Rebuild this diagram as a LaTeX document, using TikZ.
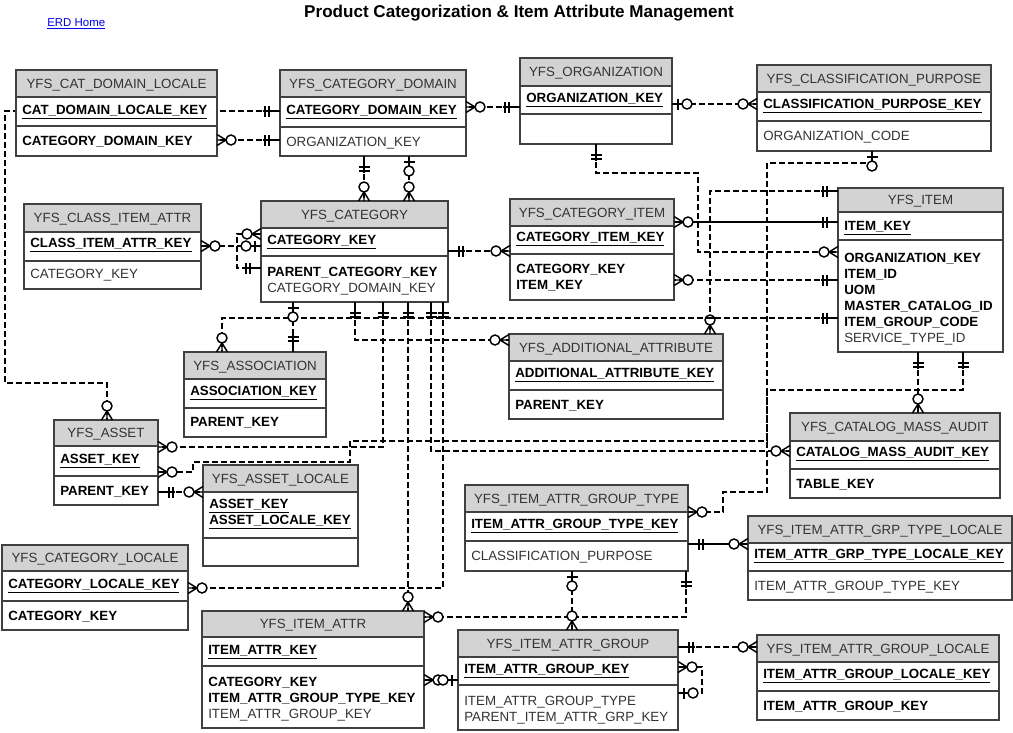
\documentclass[tikz,border=0pt]{standalone}
\usepackage{fontspec}
\setmainfont{Liberation Sans}
\usetikzlibrary{fit,calc,backgrounds}
\definecolor{hdrgray}{HTML}{D3D3D3}
\definecolor{boxgray}{HTML}{404040}
\definecolor{txtgray}{HTML}{333333}
\definecolor{linkblue}{HTML}{0000EE}
\newcommand{\erdent}[8]{%
  \fill[hdrgray] (#2,#3) rectangle (#4,#6);
  \fill[white] (#2,#6) rectangle (#4,#5);
  \draw[divline] (#2,#6) -- (#4,#6) (#2,#7) -- (#4,#7);
  \node[entity, fit={(#2,#3) (#4,#5)}] (#1) {};
  \node[hdrtext] at ({(#2+#4)/2},{(#3+#6)/2}) {#8};
}
\tikzset{
 entity/.style={draw=boxgray, line width=1pt, inner sep=0pt, outer sep=0pt},
 divline/.style={draw=boxgray, line width=0.9pt},
 basefont/.style={font=\fontsize{10}{12}\selectfont},
 hdrtext/.style={basefont, text=txtgray, inner sep=0pt, anchor=base, yshift=-3.6pt},
 keyt/.style={anchor=base west, yshift=-3.6pt, font=\fontsize{10}{12}\selectfont\bfseries, inner sep=0pt},
 attb/.style={anchor=base west, yshift=-3.6pt, font=\fontsize{10}{12}\selectfont\bfseries, inner sep=0pt},
 attn/.style={anchor=base west, yshift=-3.6pt, basefont, text=txtgray, inner sep=0pt},
 rel/.style={draw=black, line width=1pt, dash pattern=on 4.5pt off 2.25pt},
 relsolid/.style={draw=black, line width=1pt},
 sym/.style={draw=black, line width=1.1pt, solid},
 pics/zmany/.style={code={\draw[sym] (0,-5.5) -- (9,0) -- (0,5.5) (0,0) -- (9,0); \draw[sym,fill=white] (14,0) circle[radius=5];}},
 pics/one/.style={code={\draw[sym] (0,0) -- (17,0) (11,-5.5) -- (11,5.5) (15,-5.5) -- (15,5.5);}},
 pics/zone/.style={code={\draw[sym] (0,0) -- (10,0) (6,-5.5) -- (6,5.5); \draw[sym,fill=white] (15,0) circle[radius=5];}},
}
\begin{document}
\begin{tikzpicture}[x=0.75pt,y=-0.75pt]
\useasboundingbox (0,0) rectangle (1013,732);
\begin{pgfonlayer}{background}
\fill[white] (0,0) rectangle (1013,732);
\end{pgfonlayer}

% title and link
\node[font=\fontsize{12.8}{15}\selectfont\bfseries, anchor=base, yshift=-4.5pt, inner sep=0pt] (title) at (519,11) {Product Categorization \& Item Attribute Management};
\node[font=\fontsize{8.6}{10}\selectfont, text=linkblue, anchor=base west, yshift=-3pt, inner sep=0pt] (home) at (47,22) {\underline{ERD Home}};

% entities
\erdent{cdl}{16}{70}{217}{156}{97}{126}{YFS\_CAT\_DOMAIN\_LOCALE}
\node[keyt] at (22,110) {\underline{CAT\_DOMAIN\_LOCALE\_KEY}};
\node[attb] at (22,141) {CATEGORY\_DOMAIN\_KEY};

\erdent{cd}{280}{70}{466}{156}{97}{127}{YFS\_CATEGORY\_DOMAIN}
\node[keyt] at (286,110) {\underline{CATEGORY\_DOMAIN\_KEY}};
\node[attn] at (286,142) {ORGANIZATION\_KEY};

\erdent{org}{520}{58}{672}{144}{86}{114}{YFS\_ORGANIZATION}
\node[keyt] at (526,98) {\underline{ORGANIZATION\_KEY}};

\erdent{cp}{757}{65}{991}{151}{92}{121}{YFS\_CLASSIFICATION\_PURPOSE}
\node[keyt] at (763,104) {\underline{CLASSIFICATION\_PURPOSE\_KEY}};
\node[attn] at (763,136) {ORGANIZATION\_CODE};

\erdent{cia}{24}{204}{201}{289}{232}{261}{YFS\_CLASS\_ITEM\_ATTR}
\node[keyt] at (30,243) {\underline{CLASS\_ITEM\_ATTR\_KEY}};
\node[attn] at (30,274) {CATEGORY\_KEY};

\erdent{cat}{261}{201}{448}{302}{228}{256}{YFS\_CATEGORY}
\node[keyt] at (267,240) {\underline{CATEGORY\_KEY}};
\node[attb] at (267,272) {PARENT\_CATEGORY\_KEY};
\node[attn] at (267,288) {CATEGORY\_DOMAIN\_KEY};

\erdent{ci}{510}{199}{674}{300}{226}{254}{YFS\_CATEGORY\_ITEM}
\node[keyt] at (516,237) {\underline{CATEGORY\_ITEM\_KEY}};
\node[attb] at (516,269) {CATEGORY\_KEY};
\node[attb] at (516,285) {ITEM\_KEY};

\erdent{item}{838}{188}{1003}{352}{212}{240}{YFS\_ITEM}
\node[keyt] at (844,226) {\underline{ITEM\_KEY}};
\node[attb] at (844,258) {ORGANIZATION\_KEY};
\node[attb] at (844,274) {ITEM\_ID};
\node[attb] at (844,290) {UOM};
\node[attb] at (844,306) {MASTER\_CATALOG\_ID};
\node[attb] at (844,322) {ITEM\_GROUP\_CODE};
\node[attn] at (844,338) {SERVICE\_TYPE\_ID};

\erdent{assoc}{184}{352}{326}{437}{379}{408}{YFS\_ASSOCIATION}
\node[keyt] at (190,391) {\underline{ASSOCIATION\_KEY}};
\node[attb] at (190,422) {PARENT\_KEY};

\erdent{aa}{509}{334}{723}{419}{361}{390}{YFS\_ADDITIONAL\_ATTRIBUTE}
\node[keyt] at (515,373) {\underline{ADDITIONAL\_ATTRIBUTE\_KEY}};
\node[attb] at (515,405) {PARENT\_KEY};

\erdent{asset}{54}{420}{158}{505}{446}{476}{YFS\_ASSET}
\node[keyt] at (60,459) {\underline{ASSET\_KEY}};
\node[attb] at (60,491) {PARENT\_KEY};

\erdent{al}{203}{465}{358}{566}{492}{538}{YFS\_ASSET\_LOCALE}
\node[keyt] at (209,504) {\underline{ASSET\_KEY}};
\node[keyt] at (209,520) {\underline{ASSET\_LOCALE\_KEY}};

\erdent{cma}{790}{413}{1000}{498}{441}{469}{YFS\_CATALOG\_MASS\_AUDIT}
\node[keyt] at (796,452) {\underline{CATALOG\_MASS\_AUDIT\_KEY}};
\node[attb] at (796,484) {TABLE\_KEY};

\erdent{iagt}{465}{485}{688}{571}{512}{541}{YFS\_ITEM\_ATTR\_GROUP\_TYPE}
\node[keyt] at (471,524) {\underline{ITEM\_ATTR\_GROUP\_TYPE\_KEY}};
\node[attn] at (471,556) {CLASSIFICATION\_PURPOSE};

\erdent{iagtl}{748}{516}{1012}{600}{543}{571}{YFS\_ITEM\_ATTR\_GRP\_TYPE\_LOCALE}
\node[keyt] at (754,554) {\underline{ITEM\_ATTR\_GRP\_TYPE\_LOCALE\_KEY}};
\node[attn] at (754,586) {ITEM\_ATTR\_GROUP\_TYPE\_KEY};

\erdent{cl}{2}{545}{188}{630}{571}{601}{YFS\_CATEGORY\_LOCALE}
\node[keyt] at (8,584) {\underline{CATEGORY\_LOCALE\_KEY}};
\node[attb] at (8,616) {CATEGORY\_KEY};

\erdent{ia}{202}{611}{424}{728}{637}{666}{YFS\_ITEM\_ATTR}
\node[keyt] at (208,650) {\underline{ITEM\_ATTR\_KEY}};
\node[attb] at (208,682) {CATEGORY\_KEY};
\node[attb] at (208,698) {ITEM\_ATTR\_GROUP\_TYPE\_KEY};
\node[attn] at (208,714) {ITEM\_ATTR\_GROUP\_KEY};

\erdent{iag}{458}{630}{678}{730}{657}{685}{YFS\_ITEM\_ATTR\_GROUP}
\node[keyt] at (464,669) {\underline{ITEM\_ATTR\_GROUP\_KEY}};
\node[attn] at (464,701) {ITEM\_ATTR\_GROUP\_TYPE};
\node[attn] at (464,717) {PARENT\_ITEM\_ATTR\_GRP\_KEY};

\erdent{iagl}{757}{635}{999}{720}{662}{691}{YFS\_ITEM\_ATTR\_GROUP\_LOCALE}
\node[keyt] at (763,674) {\underline{ITEM\_ATTR\_GROUP\_LOCALE\_KEY}};
\node[attb] at (763,706) {ITEM\_ATTR\_GROUP\_KEY};

% connectors (behind the boxes)
\begin{pgfonlayer}{background}
\draw[rel] (cd.west |- 0,140) -- (cdl.east |- 0,140);
\draw[rel] (cd.west |- 0,111) -- (5,111) -- (5,383) -- (107,383) -- (asset.north -| 107,0);
\draw[rel] (org.west |- 0,107) -- (cd.east |- 0,107);
\draw[rel] (org.east |- 0,104) -- (cp.west |- 0,104);
\draw[rel] (org.south -| 596,0) -- (596,173) -- (698,173) -- (698,252) -- (item.west |- 0,252);
\draw[relsolid] (ci.east |- 0,222) -- (item.west |- 0,222);
\draw[rel] (item.west |- 0,280) -- (ci.east |- 0,280);
\draw[rel] (item.west |- 0,191) -- (710,191) -- (aa.north -| 710,0);
\draw[rel] (item.west |- 0,318) -- (222,318) -- (assoc.north -| 222,0);
\draw[rel] (cat.south -| 293,0) -- (assoc.north -| 293,0);
\draw[rel] (cat.south -| 355,0) -- (355,340) -- (aa.west |- 0,340);
\draw[rel] (cat.south -| 383,0) -- (383,447) -- (asset.east |- 0,447);
\draw[rel] (item.south -| 963,0) -- (963,390) -- (767,390) -- (767,441) -- (350,441) -- (350,462) -- (193,462) -- (193,472) -- (asset.east |- 0,472);
\draw[rel] (cat.south -| 431,0) -- (431,451) -- (cma.west |- 0,451);
\draw[rel] (cat.south -| 443,0) -- (443,588) -- (cl.east |- 0,588);
\draw[rel] (cat.south -| 408,0) -- (ia.north -| 408,0);
\draw[rel] (item.south -| 918,0) -- (cma.north -| 918,0);
\draw[rel] (cp.south -| 872,0) -- (872,163) -- (767,163) -- (767,492) -- (723,492) -- (723,512) -- (iagt.east |- 0,512);
\draw[rel] (cd.south -| 364,0) -- (cat.north -| 364,0);
\draw[rel] (cd.south -| 409,0) -- (cat.north -| 409,0);
\draw[rel] (cat.east |- 0,251) -- (ci.west |- 0,251);
\draw[rel] (cia.east |- 0,246) -- (cat.west |- 0,246);
\draw[rel] (cat.west |- 0,234) -- (237,234) -- (237,268) -- (cat.west |- 0,268);
\draw[rel] (asset.east |- 0,492) -- (al.west |- 0,492);
\draw[rel] (iagt.south -| 686,0) -- (686,617) -- (ia.east |- 0,617);
\draw[rel] (iagt.south -| 572,0) -- (iag.north -| 572,0);
\draw[relsolid] (iagt.east |- 0,544) -- (iagtl.west |- 0,544);
\draw[rel] (iag.east |- 0,647) -- (iagl.west |- 0,647);
\draw[rel] (iag.east |- 0,667) -- (702,667) -- (702,693) -- (iag.east |- 0,693);
\draw[relsolid] (ia.east |- 0,680) -- (iag.west |- 0,680);
\end{pgfonlayer}

% end symbols
\pic[rotate=180] at (cd.west |- 0,140) {one};
\pic at (cdl.east |- 0,140) {zmany};
\pic[rotate=180] at (cd.west |- 0,111) {one};
\pic[rotate=90] at (asset.north -| 107,0) {zmany};
\pic[rotate=180] at (org.west |- 0,107) {one};
\pic at (cd.east |- 0,107) {zmany};
\pic at (org.east |- 0,104) {zone};
\pic[rotate=180] at (cp.west |- 0,104) {zmany};
\pic[rotate=-90] at (org.south -| 596,0) {one};
\pic[rotate=180] at (item.west |- 0,252) {zmany};
\pic at (ci.east |- 0,222) {zmany};
\pic[rotate=180] at (item.west |- 0,222) {one};
\pic[rotate=180] at (item.west |- 0,280) {one};
\pic at (ci.east |- 0,280) {zmany};
\pic[rotate=180] at (item.west |- 0,191) {one};
\pic[rotate=90] at (aa.north -| 710,0) {zmany};
\draw[sym] (705,318) -- (715,318);
\pic[rotate=180] at (item.west |- 0,318) {one};
\pic[rotate=90] at (assoc.north -| 222,0) {zmany};
\pic[rotate=-90] at (cat.south -| 293,0) {zone};
\pic[rotate=90] at (assoc.north -| 293,0) {one};
\pic[rotate=-90] at (cat.south -| 355,0) {one};
\pic[rotate=180] at (aa.west |- 0,340) {zmany};
\pic[rotate=-90] at (cat.south -| 383,0) {one};
\pic at (asset.east |- 0,447) {zmany};
\pic[rotate=-90] at (item.south -| 963,0) {one};
\pic at (asset.east |- 0,472) {zmany};
\pic[rotate=-90] at (cat.south -| 431,0) {one};
\pic[rotate=180] at (cma.west |- 0,451) {zmany};
\pic[rotate=-90] at (cat.south -| 443,0) {one};
\pic at (cl.east |- 0,588) {zmany};
\pic[rotate=-90] at (cat.south -| 408,0) {one};
\pic[rotate=90] at (ia.north -| 408,0) {zmany};
\pic[rotate=-90] at (item.south -| 918,0) {one};
\pic[rotate=90] at (cma.north -| 918,0) {zmany};
\pic[rotate=-90] at (cp.south -| 872,0) {zone};
\pic at (iagt.east |- 0,512) {zmany};
\pic[rotate=-90] at (cd.south -| 364,0) {one};
\pic[rotate=90] at (cat.north -| 364,0) {zmany};
\pic[rotate=-90] at (cd.south -| 409,0) {zone};
\pic[rotate=90] at (cat.north -| 409,0) {zmany};
\pic at (cat.east |- 0,251) {one};
\pic[rotate=180] at (ci.west |- 0,251) {zmany};
\pic at (cia.east |- 0,246) {zmany};
\pic[rotate=180] at (cat.west |- 0,246) {zone};
\pic[rotate=180] at (cat.west |- 0,234) {zmany};
\pic[rotate=180] at (cat.west |- 0,268) {one};
\pic at (asset.east |- 0,492) {one};
\pic[rotate=180] at (al.west |- 0,492) {zmany};
\pic[rotate=-90] at (iagt.south -| 686,0) {one};
\pic at (ia.east |- 0,617) {zmany};
\pic[rotate=-90] at (iagt.south -| 572,0) {zone};
\pic[rotate=90] at (iag.north -| 572,0) {zmany};
\pic at (iagt.east |- 0,544) {one};
\pic[rotate=180] at (iagtl.west |- 0,544) {zmany};
\pic at (iag.east |- 0,647) {one};
\pic[rotate=180] at (iagl.west |- 0,647) {zmany};
\pic at (iag.east |- 0,667) {zmany};
\pic at (iag.east |- 0,693) {zone};
\pic at (ia.east |- 0,680) {zmany};
\pic[rotate=180] at (iag.west |- 0,680) {zone};
\end{tikzpicture}
\end{document}
